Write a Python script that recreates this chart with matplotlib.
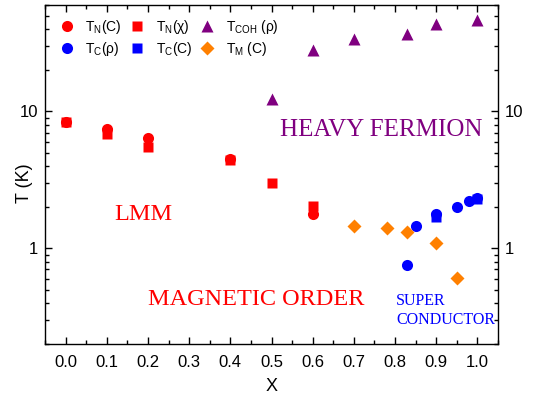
import matplotlib
matplotlib.use("Agg")
import matplotlib.pyplot as plt
from matplotlib.ticker import MultipleLocator, LogLocator, NullFormatter, FixedLocator, FixedFormatter

plt.rcParams['font.family'] = ['Liberation Sans', 'DejaVu Sans']
plt.rcParams['mathtext.fontset'] = 'custom'
plt.rcParams['mathtext.rm'] = 'Liberation Sans'
plt.rcParams['mathtext.it'] = 'Liberation Sans'

# Data
tn_c_x = [0.0, 0.1, 0.2, 0.4, 0.6]
tn_c_y = [8.3, 7.4, 6.35, 4.5, 1.79]
tn_chi_x = [0.0, 0.1, 0.2, 0.4, 0.5, 0.6]
tn_chi_y = [8.3, 6.8, 5.5, 4.4, 3.0, 2.02]
tcoh_x = [0.5, 0.6, 0.7, 0.83, 0.9, 1.0]
tcoh_y = [12.3, 27.9, 34.0, 37.0, 43.7, 46.2]
tc_rho_x = [0.83, 0.85, 0.9, 0.95, 0.98, 1.0]
tc_rho_y = [0.75, 1.45, 1.79, 1.99, 2.21, 2.33]
tc_c_x = [0.9, 1.0]
tc_c_y = [1.69, 2.3]
tm_c_x = [0.7, 0.78, 0.83, 0.9, 0.95]
tm_c_y = [1.45, 1.41, 1.31, 1.10, 0.605]

xticks = [0.0, 0.1, 0.2, 0.3, 0.4, 0.5, 0.6, 0.7, 0.8, 0.9, 1.0]

RED = '#FF0000'
BLUE = '#0000FF'
PURPLE = '#800080'
ORANGE = '#FF8000'

fig = plt.figure(figsize=(5.38, 3.96), dpi=100)
ax = fig.add_axes([0.0836, 0.1313, 0.9257 - 0.0836, 0.988 - 0.1313])

ms = 8
h1, = ax.plot(tn_c_x, tn_c_y, 'o', color=RED, ms=ms, mec='none', label=r'T$_\mathrm{N}$(C)')
h2, = ax.plot(tn_chi_x, tn_chi_y, 's', color=RED, ms=ms - 1, mec='none', label=r'T$_\mathrm{N}$($\chi$)')
h3, = ax.plot(tcoh_x, tcoh_y, '^', color=PURPLE, ms=ms + 1, mec='none', label=r'T$_\mathrm{COH}$ ($\rho$)')
h4, = ax.plot(tc_rho_x, tc_rho_y, 'o', color=BLUE, ms=ms, mec='none', label=r'T$_\mathrm{C}$($\rho$)')
h5, = ax.plot(tc_c_x, tc_c_y, 's', color=BLUE, ms=ms - 1, mec='none', label=r'T$_\mathrm{C}$(C)')
h6, = ax.plot(tm_c_x, tm_c_y, 'D', color=ORANGE, ms=ms - 1, mec='none', label=r'T$_\mathrm{M}$ (C)')

ax.set_yscale('log')
ax.set_xlim(-0.05, 1.05)
ax.set_ylim(0.2, 60)

ax.set_xticks(xticks)
ax.set_xticklabels([f'{v:.1f}' for v in xticks])
ax.xaxis.set_minor_locator(MultipleLocator(0.05))
ax.yaxis.set_major_locator(FixedLocator([1, 10]))
ax.yaxis.set_major_formatter(FixedFormatter(['1', '10']))
ax.yaxis.set_minor_locator(LogLocator(base=10, subs=range(2, 10)))
ax.yaxis.set_minor_formatter(NullFormatter())

ax.tick_params(which='both', direction='in', top=True, right=True, labelright=True, labelsize=12)
ax.tick_params(which='major', length=5, width=1)
ax.tick_params(which='minor', length=3, width=1)
ax.tick_params(axis='x', which='major', pad=8)
ax.tick_params(axis='y', which='major', pad=5)
for s in ax.spines.values():
    s.set_linewidth(1)

ax.set_xlabel('X', fontsize=13, labelpad=6)
ax.set_ylabel('T (K)', fontsize=13)
ax.yaxis.set_label_coords(-0.026, 0.474)

leg = ax.legend(handles=[h1, h4, h2, h5, h3, h6], ncol=3, loc='upper left',
                frameon=False, fontsize=10, handlelength=1.0, handletextpad=0.85,
                columnspacing=0.6, labelspacing=0.3, borderaxespad=0.0,
                bbox_to_anchor=(0.02, 0.978))

serif = ['Liberation Serif', 'DejaVu Serif']
ax.text(0.52, 7.3, 'HEAVY FERMION', color=PURPLE, fontsize=18, family=serif, ha='left', va='center')
ax.text(0.119, 1.75, 'LMM', color=RED, fontsize=17.5, family=serif, ha='left', va='center')
ax.text(0.2, 0.423, 'MAGNETIC ORDER', color=RED, fontsize=17.5, family=serif, ha='left', va='center')
ax.text(0.803, 0.412, 'SUPER', color=BLUE, fontsize=11.5, family=serif, ha='left', va='center')
ax.text(0.803, 0.299, 'CONDUCTOR', color=BLUE, fontsize=11.5, family=serif, ha='left', va='center')

fig.savefig('out.png', dpi=100)
